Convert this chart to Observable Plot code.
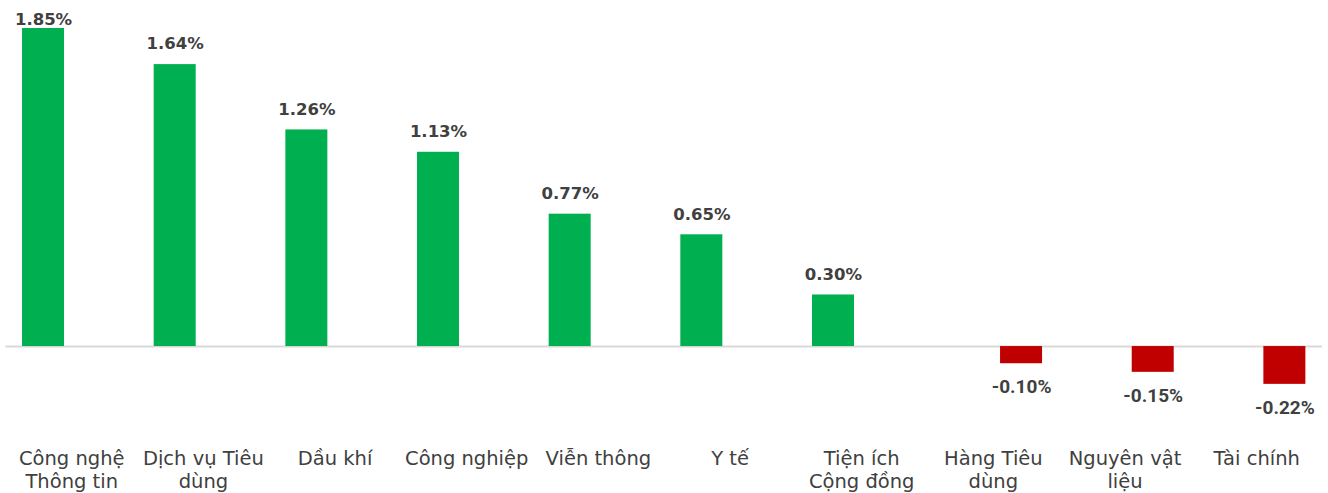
<!DOCTYPE html>
<html>
<head>
<meta charset="utf-8">
<script src="https://cdn.jsdelivr.net/npm/d3@7"></script>
<script src="https://cdn.jsdelivr.net/npm/@observablehq/plot@0.6"></script>
<style>
  html, body { margin: 0; padding: 0; background: #fff; }
  #chart svg { display: block; }
  g[aria-label="cat-labels"] text { letter-spacing: 0.9px; }
  g[aria-label="pos-labels"] text, g[aria-label="top-label"] text { letter-spacing: 0.3px; }
</style>
</head>
<body>
<div id="chart"></div>
<script>
const categories = ["Công nghệ Thông tin", "Dịch vụ Tiêu dùng", "Dầu khí", "Công nghiệp", "Viễn thông", "Y tế", "Tiện ích Cộng đồng", "Hàng Tiêu dùng", "Nguyên vật liệu", "Tài chính"];
const tickLabels = ["Công nghệ\nThông tin", "Dịch vụ Tiêu\ndùng", "Dầu khí", "Công nghiệp", "Viễn thông", "Y tế", "Tiện ích\nCộng đồng", "Hàng Tiêu\ndùng", "Nguyên vật\nliệu", "Tài chính"];
const values = [1.85, 1.64, 1.26, 1.13, 0.77, 0.65, 0.30, -0.10, -0.15, -0.22];

const data = categories.map((c, i) => ({category: c, label: tickLabels[i], value: values[i]}));
const pos = data.filter(d => d.value >= 0);
const neg = data.filter(d => d.value < 0);
const maxV = d3.max(values);
const fmt = v => v.toFixed(2) + "%";

const chart = Plot.plot({
  width: 1328,
  height: 493,
  marginTop: 28,
  marginBottom: 61,
  marginLeft: 5.4,
  marginRight: 6,
  x: {domain: categories, paddingInner: 0.681, paddingOuter: 0.3405, round: false, axis: null},
  y: {domain: [-0.5, 1.85], axis: null},
  style: {background: "#fff", overflow: "visible"},
  marks: [
    Plot.ruleY([0], {stroke: "#d9d9d9", strokeWidth: 2}),
    Plot.barY(pos, {x: "category", y: "value", fill: "#00b050", dx: -28.2}),
    Plot.barY(neg, {x: "category", y: "value", fill: "#c00000", dx: 28.2}),
    Plot.text(pos.filter(d => d.value !== maxV), {x: "category", y: "value", text: d => fmt(d.value), dx: -28.2, dy: -27, lineAnchor: "top", fontFamily: "DejaVu Sans", fontWeight: "bold", fontSize: 16.5, fill: "#404040", ariaLabel: "pos-labels"}),
    Plot.text(pos.filter(d => d.value === maxV), {x: "category", y: "value", text: d => fmt(d.value), dx: -28.2, dy: -15, lineAnchor: "top", fontFamily: "DejaVu Sans", fontWeight: "bold", fontSize: 16.5, fill: "#404040", ariaLabel: "top-label"}),
    Plot.text(neg, {x: "category", y: "value", text: d => fmt(d.value), dx: 28.2, dy: 16, lineAnchor: "top", fontFamily: "Roboto", fontWeight: "bold", fontSize: 19, fill: "#404040"}),
    Plot.text(data, {x: "category", text: "label", frameAnchor: "bottom", dy: 15.5, lineAnchor: "top", lineHeight: 1.2, fontFamily: "DejaVu Sans", fontSize: 19.5, fill: "#404040", ariaLabel: "cat-labels"})
  ]
});
document.getElementById("chart").appendChild(chart);
</script>
</body>
</html>
